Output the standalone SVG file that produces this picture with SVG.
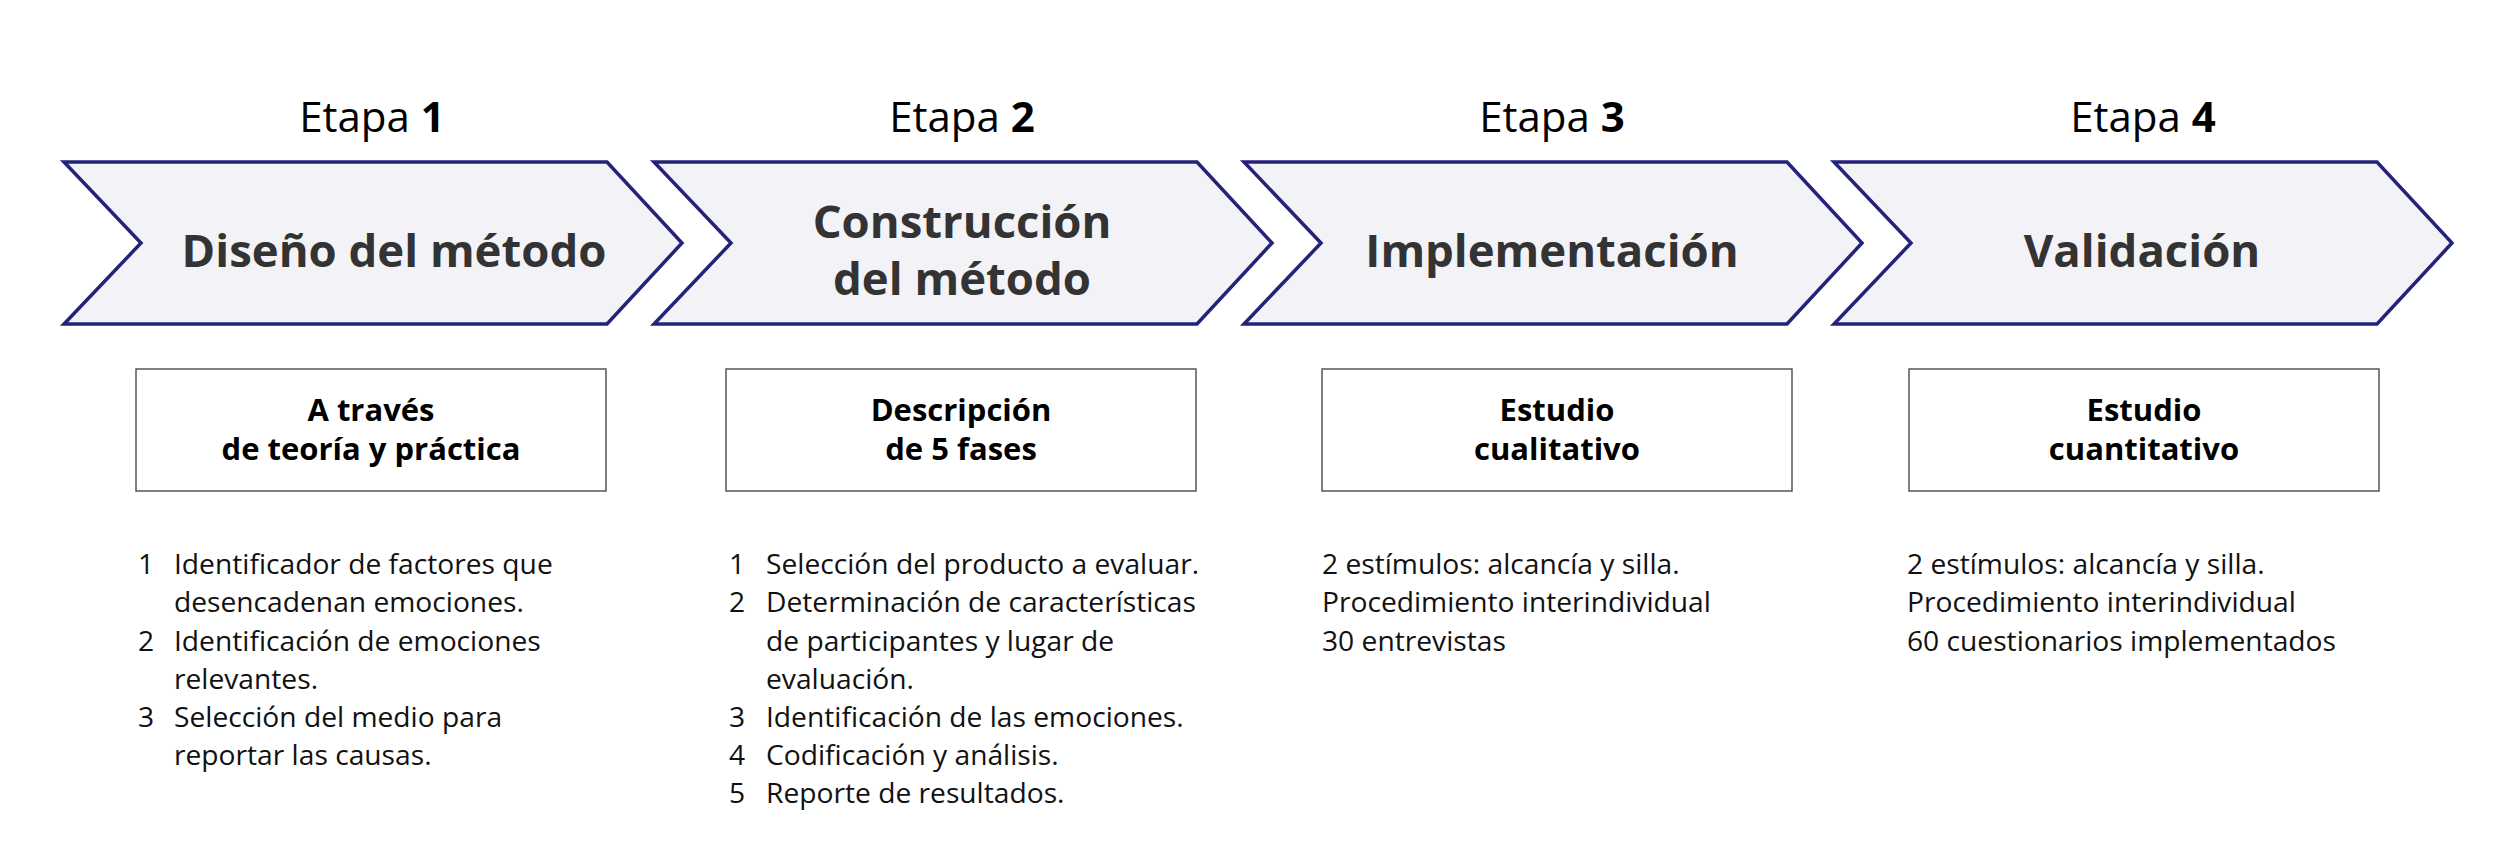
<svg xmlns="http://www.w3.org/2000/svg" width="2514" height="860" viewBox="0 0 2514 860">
<defs>
<style>
.chev{fill:#f2f2f7;stroke:#23237a;stroke-width:3.5;stroke-linejoin:miter}
.etapa{font-family:"Open Sans","Noto Sans",sans-serif;font-size:42px;fill:#000;text-anchor:middle}
.etapa tspan.n{font-weight:bold}
.title{font-family:"Open Sans","Noto Sans",sans-serif;font-size:45.5px;font-weight:bold;fill:#333333;text-anchor:middle}
.box{fill:#ffffff;stroke:#555555;stroke-width:1.5}
.btxt{font-family:"Open Sans","Noto Sans",sans-serif;font-size:31px;font-weight:bold;fill:#000;text-anchor:middle}
.lst{font-family:"Open Sans","Noto Sans",sans-serif;font-size:28.2px;fill:#111}
</style>
<polygon id="chevShape" points="0,0 543,0 618,81 543,162 0,162 77,81"/>
</defs>
<rect width="2514" height="860" fill="#ffffff"/>

<g id="stage1">
<text class="etapa" x="372" y="132">Etapa <tspan class="n">1</tspan></text>
<use href="#chevShape" class="chev" x="64" y="162"/>
<text class="title" x="394" y="267">Diseño del método</text>
<rect class="box" x="136" y="369" width="470" height="122"/>
<text class="btxt" x="371" y="421">A través</text>
<text class="btxt" x="371" y="460">de teoría y práctica</text>
<g class="lst">
<text x="138" y="574">1</text><text x="174" y="574">Identificador de factores que</text>
<text x="174" y="612">desencadenan emociones.</text>
<text x="138" y="651">2</text><text x="174" y="651">Identificación de emociones</text>
<text x="174" y="689">relevantes.</text>
<text x="138" y="727">3</text><text x="174" y="727">Selección del medio para</text>
<text x="174" y="765">reportar las causas.</text>
</g>
</g>

<g id="stage2">
<text class="etapa" x="962" y="132">Etapa <tspan class="n">2</tspan></text>
<use href="#chevShape" class="chev" x="654" y="162"/>
<text class="title" x="962" y="238">Construcción</text>
<text class="title" x="962" y="295">del método</text>
<rect class="box" x="726" y="369" width="470" height="122"/>
<text class="btxt" x="961" y="421">Descripción</text>
<text class="btxt" x="961" y="460">de 5 fases</text>
<g class="lst">
<text x="729" y="574">1</text><text x="766" y="574">Selección del producto a evaluar.</text>
<text x="729" y="612">2</text><text x="766" y="612">Determinación de características</text>
<text x="766" y="651">de participantes y lugar de</text>
<text x="766" y="689">evaluación.</text>
<text x="729" y="727">3</text><text x="766" y="727">Identificación de las emociones.</text>
<text x="729" y="765">4</text><text x="766" y="765">Codificación y análisis.</text>
<text x="729" y="803">5</text><text x="766" y="803">Reporte de resultados.</text>
</g>
</g>

<g id="stage3">
<text class="etapa" x="1552" y="132">Etapa <tspan class="n">3</tspan></text>
<use href="#chevShape" class="chev" x="1244" y="162"/>
<text class="title" x="1552" y="267">Implementación</text>
<rect class="box" x="1322" y="369" width="470" height="122"/>
<text class="btxt" x="1557" y="421">Estudio</text>
<text class="btxt" x="1557" y="460">cualitativo</text>
<g class="lst">
<text x="1322" y="574">2 estímulos: alcancía y silla.</text>
<text x="1322" y="612">Procedimiento interindividual</text>
<text x="1322" y="651">30 entrevistas</text>
</g>
</g>

<g id="stage4">
<text class="etapa" x="2143" y="132">Etapa <tspan class="n">4</tspan></text>
<use href="#chevShape" class="chev" x="1834" y="162"/>
<text class="title" x="2142" y="267">Validación</text>
<rect class="box" x="1909" y="369" width="470" height="122"/>
<text class="btxt" x="2144" y="421">Estudio</text>
<text class="btxt" x="2144" y="460">cuantitativo</text>
<g class="lst">
<text x="1907" y="574">2 estímulos: alcancía y silla.</text>
<text x="1907" y="612">Procedimiento interindividual</text>
<text x="1907" y="651">60 cuestionarios implementados</text>
</g>
</g>

<g id="connectors"></g>
</svg>
